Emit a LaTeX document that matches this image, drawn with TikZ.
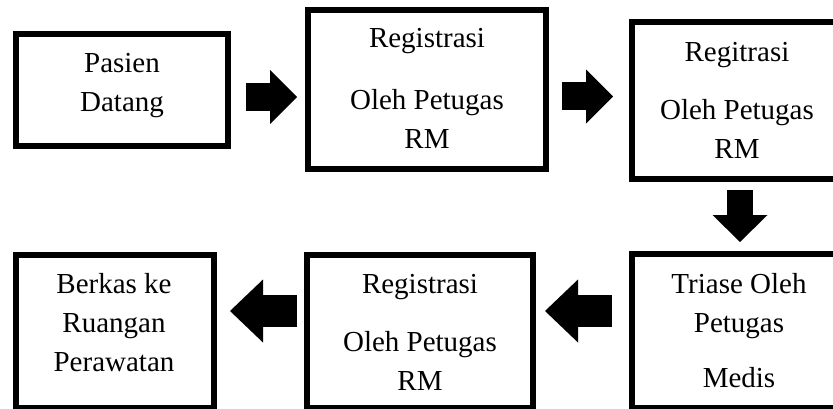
\documentclass[tikz,border=0pt]{standalone}
\usepackage{fontspec}
\setmainfont{Liberation Serif}
\usetikzlibrary{arrows.meta}

\begin{document}
\begin{tikzpicture}[x=1pt, y=1pt]
    \tikzstyle{box}=[draw, line width=6pt, inner sep=0pt, outer sep=0pt]
    \tikzstyle{txt}=[inner sep=0pt, anchor=north, align=center, font=\fontsize{29}{39}\selectfont]
    \tikzstyle{smallarr}=[line width=28pt, -{Triangle[width=54pt,length=27pt,line width=0pt]}]
    \tikzstyle{downarr}=[line width=26pt, -{Triangle[width=55pt,length=27pt,line width=0pt]}]
    \tikzstyle{bigarr}=[line width=32pt, -{Triangle[width=63pt,length=33pt,line width=0pt]}]
    \useasboundingbox (0,0) rectangle (833,-409);
    % boxes
    \node[box, minimum width=212pt, minimum height=112pt] (b1) at (122,-90) {};
    \node[box, minimum width=238pt, minimum height=159pt] (b2) at (427,-89.5) {};
    \node[box, minimum width=210pt, minimum height=157pt] (b3) at (737,-100.5) {};
    \node[box, minimum width=198pt, minimum height=153pt] (b4) at (115,-331.5) {};
    \node[box, minimum width=226pt, minimum height=153pt] (b5) at (420,-331.5) {};
    \node[box, minimum width=210pt, minimum height=154pt] (b6) at (737,-331) {};
    % texts
    \node[txt] (t1) at (122,-53.2) {Pasien\\Datang};
    \node[txt] (t2) at (427,-28.2) {Registrasi\\[23pt]Oleh Petugas\\RM};
    \node[txt] (t3) at (737,-42.2) {Regitrasi\\[19pt]Oleh Petugas\\RM};
    \node[txt] (t4) at (114,-273.2) {Berkas ke\\Ruangan\\Perawatan};
    \node[txt] (t5) at (420,-274.2) {Registrasi\\[19pt]Oleh Petugas\\RM};
    \node[txt] (t6) at (739,-273.2) {Triase Oleh\\Petugas\\[16pt]Medis};
    % arrows
    \draw[smallarr, shorten <=18pt, shorten >=11pt] ([yshift=-7pt]b1.east) -- ([yshift=-7.5pt]b2.west);
    \draw[smallarr, shorten <=16pt, shorten >=19pt] ([yshift=-7pt]b2.east) -- ([yshift=4pt]b3.west);
    \draw[downarr, shorten <=11pt, shorten >=12pt] ([xshift=3pt]b3.south) -- ([xshift=3pt]b6.north);
    \draw[bigarr, shorten <=20pt, shorten >=12pt] ([yshift=20pt]b6.west) -- ([yshift=20.5pt]b5.east);
    \draw[bigarr, shorten <=10pt, shorten >=16pt] ([yshift=20.5pt]b5.west) -- ([yshift=20.5pt]b4.east);
\end{tikzpicture}
\end{document}
